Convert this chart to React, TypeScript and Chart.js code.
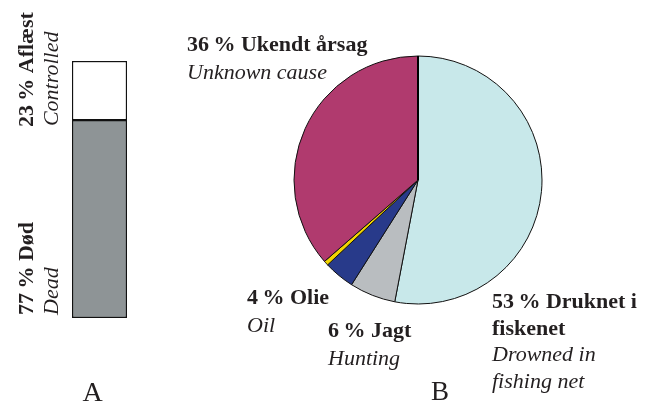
import React, { useEffect, useRef } from 'react';
import { Chart, registerables } from 'chart.js';

Chart.register(...registerables);

const FONT = '"Liberation Serif", "Times New Roman", serif';
const TEXT = '#231f20';

// Panel A: stacked bar
const barCategories = ['A'];
const deadValues = [77];
const controlledValues = [23];
const barBoldLabels = ['77\u2009% Død', '23\u2009% Aflæst'];
const barItalicLabels = ['Dead', 'Controlled'];

// Panel B: pie
const pieLabels = ['Druknet i fiskenet', 'Jagt', 'Olie', 'Andet', 'Ukendt årsag'];
const pieValues = [53, 6, 4, 0.6, 36.4];
const pieColors = ['#c8e8ea', '#b9bdc0', '#283a8a', '#f2d500', '#b03a6e'];

const panelLetters = ['A', 'B'];

function drawLines(ctx: CanvasRenderingContext2D, x: number, y: number, lines: { t: string; b: boolean }[], lh: number) {
  lines.forEach((l, i) => {
    ctx.font = `${l.b ? 'bold ' : 'italic '}22px ${FONT}`;
    ctx.fillText(l.t, x, y + i * lh);
  });
}

export default function App() {
  const barRef = useRef<HTMLCanvasElement>(null);
  const pieRef = useRef<HTMLCanvasElement>(null);

  useEffect(() => {
    const barLabelPlugin = {
      id: 'barLabels',
      afterDraw(chart: any) {
        const ctx = chart.ctx as CanvasRenderingContext2D;
        const ys = chart.scales.y;
        const area = chart.chartArea;
        const starts = [ys.getPixelForValue(0) - 3, ys.getPixelForValue(deadValues[0]) + 7];
        ctx.save();
        ctx.fillStyle = TEXT;
        ctx.textBaseline = 'alphabetic';
        ctx.textAlign = 'left';
        for (let i = 0; i < 2; i++) {
          ctx.save();
          ctx.translate(area.left - 39, starts[i]);
          ctx.rotate(-Math.PI / 2);
          ctx.font = `bold 22px ${FONT}`;
          ctx.fillText(barBoldLabels[i], 0, 0);
          ctx.restore();
          ctx.save();
          ctx.translate(area.left - 14, starts[i] - (i === 1 ? 1 : 0));
          ctx.rotate(-Math.PI / 2);
          ctx.font = `italic 22px ${FONT}`;
          ctx.fillText(barItalicLabels[i], 0, 0);
          ctx.restore();
        }
        ctx.font = `28px ${FONT}`;
        ctx.textAlign = 'center';
        ctx.fillText(panelLetters[0], (area.left + area.right) / 2 - 7, 401);
        ctx.restore();
      },
    };

    const pieLabelPlugin = {
      id: 'pieLabels',
      afterDatasetsDraw(chart: any) {
        const ctx = chart.ctx as CanvasRenderingContext2D;
        const meta = chart.getDatasetMeta(0);
        const arc = meta.data[0];
        ctx.save();
        ctx.strokeStyle = '#000';
        ctx.lineWidth = 2;
        ctx.beginPath();
        ctx.moveTo(arc.x, arc.y);
        ctx.lineTo(arc.x + Math.cos(arc.startAngle) * arc.outerRadius, arc.y + Math.sin(arc.startAngle) * arc.outerRadius);
        ctx.stroke();
        ctx.restore();
      },
      afterDraw(chart: any) {
        const ctx = chart.ctx as CanvasRenderingContext2D;
        ctx.save();
        ctx.fillStyle = TEXT;
        ctx.textAlign = 'left';
        ctx.textBaseline = 'alphabetic';
        drawLines(ctx, 187, 51, [
          { t: `${Math.round(pieValues[4])}\u2009% Ukendt årsag`, b: true },
          { t: 'Unknown cause', b: false },
        ], 28);
        drawLines(ctx, 247, 304, [
          { t: `${pieValues[2]}\u2009% Olie`, b: true },
          { t: 'Oil', b: false },
        ], 28);
        drawLines(ctx, 328, 337, [
          { t: `${pieValues[1]}\u2009% Jagt`, b: true },
          { t: 'Hunting', b: false },
        ], 28);
        drawLines(ctx, 492, 308, [
          { t: `${pieValues[0]}\u2009% Druknet i`, b: true },
          { t: 'fiskenet', b: true },
          { t: 'Drowned in', b: false },
          { t: 'fishing net', b: false },
        ], 26.5);
        ctx.font = `27px ${FONT}`;
        ctx.textAlign = 'center';
        ctx.fillText(panelLetters[1], 440, 400);
        ctx.restore();
      },
    };

    const bar = new Chart(barRef.current!, {
      type: 'bar',
      data: {
        labels: barCategories,
        datasets: [
          {
            label: 'Død',
            data: deadValues,
            backgroundColor: '#8e9496',
            borderColor: '#111',
            borderWidth: 1.5,
            borderSkipped: false,
            barPercentage: 1,
            categoryPercentage: 1,
          },
          {
            label: 'Aflæst',
            data: controlledValues,
            backgroundColor: '#ffffff',
            borderColor: '#111',
            borderWidth: 1.5,
            borderSkipped: false,
            barPercentage: 1,
            categoryPercentage: 1,
          },
        ],
      },
      options: {
        responsive: false,
        animation: false,
        layout: { padding: { left: 72, right: 523, top: 61, bottom: 87 } },
        scales: {
          x: { stacked: true, display: false },
          y: { stacked: true, display: false, min: 0, max: 100 },
        },
        plugins: { legend: { display: false }, tooltip: { enabled: false } },
      },
      plugins: [barLabelPlugin],
    });

    const pie = new Chart(pieRef.current!, {
      type: 'pie',
      data: {
        labels: pieLabels,
        datasets: [
          {
            data: pieValues,
            backgroundColor: pieColors,
            borderColor: '#111',
            borderWidth: 1,
          },
        ],
      },
      options: {
        responsive: false,
        animation: false,
        radius: 124,
        layout: { padding: { left: 186, right: 0, top: 0, bottom: 45 } },
        plugins: { legend: { display: false }, tooltip: { enabled: false } },
      } as any,
      plugins: [pieLabelPlugin],
    });

    return () => {
      bar.destroy();
      pie.destroy();
    };
  }, []);

  return (
    <div style={{ position: 'absolute', left: 0, top: 0, width: 650, height: 405, background: '#fff' }}>
      <canvas ref={barRef} width={650} height={405} style={{ position: 'absolute', left: 0, top: 0 }} />
      <canvas ref={pieRef} width={650} height={405} style={{ position: 'absolute', left: 0, top: 0 }} />
    </div>
  );
}
